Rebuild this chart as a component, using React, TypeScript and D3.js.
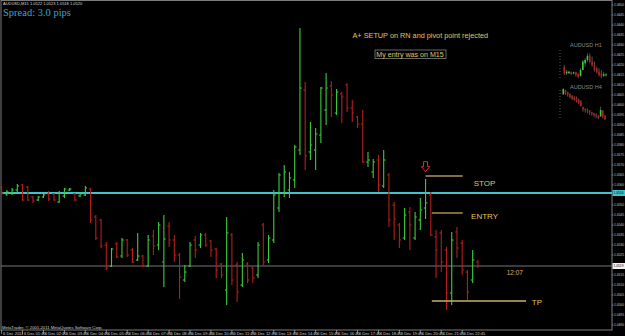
import React from 'react';
import * as d3 from 'd3';

const W = 625;
const H = 336;

// AUDUSD M15 bars
const openP = [1.05590,1.05555,1.05560,1.05575,1.05600,1.05590,1.05540,1.05525,1.05540,1.05555,1.05555,1.05515,1.05545,1.05575,1.05555,1.05545,1.05550,1.05580,1.05440,1.05425,1.05300,1.05195,1.05305,1.05245,1.05325,1.05275,1.05225,1.05245,1.05195,1.05345,1.05300,1.05215,1.05395,1.05325,1.05250,1.05125,1.05195,1.05325,1.05300,1.05350,1.05320,1.05280,1.05205,1.05075,1.05350,1.05200,1.05100,1.05205,1.05185,1.05150,1.05400,1.05225,1.05325,1.05485,1.05560,1.05575,1.05625,1.05775,1.06075,1.05765,1.05775,1.05850,1.05975,1.06095,1.05960,1.06055,1.06100,1.05985,1.05940,1.05905,1.05715,1.05665,1.05725,1.05595,1.05650,1.05500,1.05400,1.05335,1.05465,1.05335,1.05425,1.05485,1.05550,1.05340,1.05360,1.05275,1.05060,1.05365,1.05310,1.05165,1.05125,1.05215];
const highP = [1.05595,1.05575,1.05585,1.05605,1.05605,1.05595,1.05545,1.05545,1.05555,1.05570,1.05560,1.05570,1.05585,1.05585,1.05560,1.05560,1.05595,1.05585,1.05450,1.05430,1.05315,1.05285,1.05315,1.05335,1.05330,1.05285,1.05360,1.05250,1.05350,1.05375,1.05415,1.05450,1.05415,1.05350,1.05260,1.05200,1.05315,1.05345,1.05360,1.05360,1.05325,1.05285,1.05210,1.05440,1.05360,1.05215,1.05260,1.05215,1.05190,1.05315,1.05410,1.05350,1.05575,1.05660,1.05700,1.05665,1.05800,1.06385,1.06115,1.05915,1.05885,1.06090,1.06160,1.06120,1.06080,1.06065,1.06110,1.06025,1.05945,1.05975,1.05765,1.05730,1.05750,1.05775,1.05660,1.05515,1.05410,1.05485,1.05490,1.05465,1.05535,1.05630,1.05565,1.05375,1.05375,1.05290,1.05365,1.05390,1.05325,1.05175,1.05275,1.05225];
const lowP = [1.05550,1.05545,1.05550,1.05565,1.05520,1.05520,1.05510,1.05520,1.05535,1.05520,1.05520,1.05510,1.05535,1.05570,1.05520,1.05540,1.05545,1.05410,1.05325,1.05285,1.05175,1.05190,1.05235,1.05235,1.05240,1.05210,1.05220,1.05190,1.05190,1.05250,1.05275,1.05090,1.05290,1.05215,1.05030,1.05115,1.05190,1.05235,1.05285,1.05290,1.05240,1.05135,1.05135,1.05000,1.05100,1.05015,1.05090,1.05110,1.05110,1.05135,1.05200,1.05210,1.05310,1.05465,1.05540,1.05535,1.05585,1.05750,1.05675,1.05725,1.05675,1.05810,1.05900,1.05940,1.05950,1.05910,1.05965,1.05915,1.05885,1.05710,1.05690,1.05635,1.05565,1.05585,1.05390,1.05325,1.05285,1.05325,1.05275,1.05325,1.05375,1.05430,1.05345,1.05135,1.05165,1.04975,1.05000,1.05235,1.05150,1.05025,1.05110,1.05185];
const closeP = [1.05560,1.05565,1.05575,1.05595,1.05525,1.05525,1.05520,1.05540,1.05550,1.05530,1.05525,1.05560,1.05580,1.05580,1.05525,1.05555,1.05585,1.05425,1.05335,1.05295,1.05185,1.05280,1.05240,1.05325,1.05250,1.05215,1.05245,1.05195,1.05325,1.05295,1.05400,1.05330,1.05325,1.05250,1.05140,1.05165,1.05300,1.05275,1.05350,1.05300,1.05275,1.05175,1.05150,1.05360,1.05125,1.05065,1.05225,1.05125,1.05135,1.05300,1.05215,1.05335,1.05550,1.05650,1.05665,1.05635,1.05790,1.06085,1.05745,1.05800,1.05855,1.06085,1.06085,1.06050,1.06065,1.06040,1.05985,1.05960,1.05905,1.05715,1.05725,1.05715,1.05600,1.05725,1.05425,1.05430,1.05325,1.05450,1.05400,1.05440,1.05475,1.05510,1.05350,1.05275,1.05215,1.05060,1.05325,1.05285,1.05175,1.05065,1.05225,1.05195];

// inset H1
const h1Open = [1.0540,1.0500,1.0500,1.0508,1.0498,1.0506,1.0496,1.0484,1.0520,1.0560,1.0580,1.0605,1.0570,1.0550,1.0530,1.0510,1.0500,1.0485,1.0488];
const h1High = [1.0550,1.0520,1.0514,1.0510,1.0510,1.0510,1.0500,1.0530,1.0580,1.0590,1.0620,1.0620,1.0600,1.0570,1.0540,1.0530,1.0520,1.0510,1.0500];
const h1Low = [1.0490,1.0490,1.0496,1.0490,1.0494,1.0480,1.0470,1.0480,1.0520,1.0540,1.0570,1.0560,1.0540,1.0510,1.0500,1.0480,1.0470,1.0480,1.0480];
const h1Close = [1.0500,1.0510,1.0510,1.0496,1.0506,1.0490,1.0480,1.0520,1.0570,1.0580,1.0605,1.0570,1.0550,1.0520,1.0505,1.0490,1.0480,1.0495,1.0494];

// inset H4
const h4Open = [1.0665,1.0688,1.0676,1.0665,1.0655,1.0645,1.0640,1.0630,1.0620,1.0588,1.0576,1.0572,1.0566,1.0556,1.0550,1.0542,1.0535,1.0532,1.0565,1.0535];
const h4High = [1.0700,1.0690,1.0680,1.0670,1.0660,1.0654,1.0650,1.0640,1.0630,1.0590,1.0580,1.0580,1.0570,1.0560,1.0554,1.0550,1.0540,1.0590,1.0570,1.0540];
const h4Low = [1.0660,1.0660,1.0650,1.0640,1.0630,1.0626,1.0614,1.0606,1.0590,1.0560,1.0554,1.0550,1.0540,1.0534,1.0526,1.0520,1.0514,1.0530,1.0520,1.0510];
const h4Close = [1.0695,1.0668,1.0660,1.0648,1.0638,1.0632,1.0620,1.0612,1.0595,1.0575,1.0570,1.0565,1.0555,1.0548,1.0540,1.0532,1.0522,1.0570,1.0530,1.0515];

// levels
const cyanLevel = 1.0556;
const bidLevel = 1.05195;
const stopLevel = 1.05645;
const entryLevel = 1.0546;
const tpLevel = 1.0502;

const timeLabels = ['6 Dec 2011','6 Dec 01:45','6 Dec 02:45','6 Dec 03:45','6 Dec 04:45','6 Dec 05:45','6 Dec 06:45','6 Dec 07:45','6 Dec 08:45','6 Dec 09:45','6 Dec 10:45','6 Dec 11:45','6 Dec 12:45','6 Dec 13:45','6 Dec 14:45','6 Dec 15:45','6 Dec 16:45','6 Dec 17:45','6 Dec 18:45','6 Dec 19:45','6 Dec 20:45','6 Dec 21:45','6 Dec 22:45'];

const UP = '#3ccc3c';
const DOWN = '#b41e1e';
const GOLD = '#e2c35e';
const SMALL = 'Liberation Sans, Arial, sans-serif';

export default function App() {
  const x = d3.scaleLinear().domain([0, 91]).range([1.6, 477.9]);
  const y = d3.scaleLinear().domain([1.04895, 1.065]).range([326, 5]);
  const priceTicks = d3.range(1.0490, 1.06501, 0.0005);

  const hx1 = d3.scaleLinear().domain([0, 18]).range([564.3, 606]);
  const hy1 = d3.scaleLinear().domain([1.047, 1.062]).range([78.3, 53.3]);
  const hx4 = d3.scaleLinear().domain([0, 19]).range([563.3, 605]);
  const hy4 = d3.scaleLinear().domain([1.051, 1.07]).range([120, 88.3]);

  const inset = (o: number[], h: number[], l: number[], c: number[], sx: any, sy: any, key: string) =>
    o.map((ov, i) => {
      const col = c[i] >= ov ? UP : DOWN;
      const top = sy(Math.max(ov, c[i]));
      const bot = sy(Math.min(ov, c[i]));
      return (
        <g key={key + i}>
          <line x1={sx(i)} x2={sx(i)} y1={sy(h[i])} y2={sy(l[i])} stroke="#8a8a8a" strokeWidth={0.6} />
          <rect x={sx(i) - 0.8} y={top} width={1.6} height={Math.max(0.8, bot - top)} fill={col} />
        </g>
      );
    });

  const arrowX = x(81);
  const aTop = y(1.05717);
  const aBot = y(1.05667);
  const arrowPath = `M${arrowX - 2},${aTop} L${arrowX + 2},${aTop} L${arrowX + 2},${aTop + 5} L${arrowX + 4.2},${aTop + 5} L${arrowX},${aBot} L${arrowX - 4.2},${aTop + 5} L${arrowX - 2},${aTop + 5} Z`;

  return (
    <svg width={W} height={H} style={{ position: 'absolute', left: 0, top: 0, background: '#000' }}>
      <rect x={0} y={0} width={W} height={H} fill="#000" />
      {/* frame */}
      <rect x={1} y={0.5} width={611} height={329.5} fill="none" stroke="#7c7c7c" strokeWidth={1} />

      {/* header */}
      <text x={3} y={5} fontSize={4} fill="#d8d8d8" fontFamily={SMALL}>AUDUSD,M15  1.0522 1.0523 1.0518 1.0520</text>
      <text x={3} y={15.5} fontSize={10.5} fill="#35a3da" fontFamily="Liberation Serif, Times New Roman, serif">Spread: 3.0 pips</text>

      {/* horizontal levels */}
      <line x1={1} x2={612} y1={y(bidLevel)} y2={y(bidLevel)} stroke="#777" strokeWidth={1} />
      <line x1={1} x2={612} y1={y(cyanLevel)} y2={y(cyanLevel)} stroke="#40c4cc" strokeWidth={2} />

      {/* bars */}
      {openP.map((o, i) => {
        const c = closeP[i];
        const col = c >= o ? UP : DOWN;
        const xi = x(i);
        return (
          <g key={i} stroke={col} strokeWidth={1.1}>
            <line x1={xi} x2={xi} y1={y(highP[i])} y2={y(lowP[i])} />
            <line x1={xi - 1.8} x2={xi} y1={y(o)} y2={y(o)} />
            <line x1={xi} x2={xi + 1.8} y1={y(c)} y2={y(c)} />
          </g>
        );
      })}

      {/* trade annotations */}
      <line x1={x(81)} x2={x(88.1)} y1={y(stopLevel)} y2={y(stopLevel)} stroke="#b09060" strokeWidth={1.5} />
      <line x1={x(82.2)} x2={x(88.1)} y1={y(entryLevel)} y2={y(entryLevel)} stroke="#b08a5a" strokeWidth={1.5} />
      <line x1={x(82.2)} x2={x(100.2)} y1={y(tpLevel)} y2={y(tpLevel)} stroke="#c8b070" strokeWidth={1.5} />
      <text x={x(90.2)} y={y(stopLevel) + 9.5} fontSize={8} fill={GOLD} fontFamily={SMALL}>STOP</text>
      <text x={x(89.7)} y={y(entryLevel) + 5.5} fontSize={8} fill={GOLD} fontFamily={SMALL}>ENTRY</text>
      <text x={x(101.3)} y={y(tpLevel) + 4} fontSize={8} fill={GOLD} fontFamily={SMALL}>TP</text>
      <text x={x(96.5)} y={y(bidLevel) + 9} fontSize={6.5} fill="#e8a85a" fontFamily={SMALL}>12:07</text>
      <path d={arrowPath} fill="none" stroke="#d83030" strokeWidth={1} />

      <text x={352.5} y={37.5} fontSize={7.3} fill={GOLD} fontFamily={SMALL}>A+ SETUP on RN and pivot point rejected</text>
      <rect x={375} y={50} width={71} height={8.5} fill="none" stroke="#808080" strokeWidth={0.8} />
      <text x={376.3} y={56.8} fontSize={7.1} fill={GOLD} fontFamily={SMALL}>My entry was on M15</text>

      {/* insets */}
      <text x={570} y={47} fontSize={5.5} fill="#8a8a8a" fontFamily={SMALL}>AUDUSD H1</text>
      <line x1={560} x2={560} y1={50} y2={78} stroke="#888" strokeWidth={0.6} strokeDasharray="1,2" />
      {inset(h1Open, h1High, h1Low, h1Close, hx1, hy1, 'h1')}
      <text x={570} y={88.5} fontSize={5.5} fill="#8a8a8a" fontFamily={SMALL}>AUDUSD H4</text>
      <line x1={560} x2={560} y1={90} y2={120} stroke="#888" strokeWidth={0.6} strokeDasharray="1,2" />
      {inset(h4Open, h4High, h4Low, h4Close, hx4, hy4, 'h4')}

      {/* price axis */}
      {priceTicks.map((p, i) => {
        const yy = y(p);
        if (Math.abs(yy - y(cyanLevel)) < 5 || Math.abs(yy - y(bidLevel)) < 5) return null;
        return (
          <g key={'pt' + i}>
            <line x1={612} x2={613.5} y1={yy} y2={yy} stroke="#bbb" strokeWidth={0.6} />
            <text x={614} y={yy + 1.4} fontSize={3.6} fill="#d0d0d0" fontFamily={SMALL} textLength={10} lengthAdjust="spacingAndGlyphs">{p.toFixed(4)}</text>
          </g>
        );
      })}
      <rect x={612.5} y={y(cyanLevel) - 3} width={12.5} height={6} fill="#40c4cc" />
      <text x={613.5} y={y(cyanLevel) + 1.4} fontSize={3.6} fill="#000" fontFamily={SMALL} textLength={10} lengthAdjust="spacingAndGlyphs">{cyanLevel.toFixed(4)}</text>
      <rect x={612.5} y={y(bidLevel) - 3} width={12.5} height={6} fill="#f0f0f0" />
      <text x={613.5} y={y(bidLevel) + 1.4} fontSize={3.6} fill="#000" fontFamily={SMALL} textLength={10} lengthAdjust="spacingAndGlyphs">{bidLevel.toFixed(4)}</text>

      {/* time axis */}
      <text x={2} y={328.8} fontSize={4.2} fill="#d0d0d0" fontFamily={SMALL}>MetaTrader, © 2001-2011 MetaQuotes Software Corp.</text>
      {timeLabels.map((t, k) => {
        const xx = x(k * 4);
        return (
          <g key={'tl' + k}>
            <line x1={xx} x2={xx} y1={330} y2={334} stroke="#ccc" strokeWidth={0.6} />
            <text x={xx + 1.5} y={335} fontSize={4} fill="#d0d0d0" fontFamily={SMALL}>{t}</text>
          </g>
        );
      })}
    </svg>
  );
}
